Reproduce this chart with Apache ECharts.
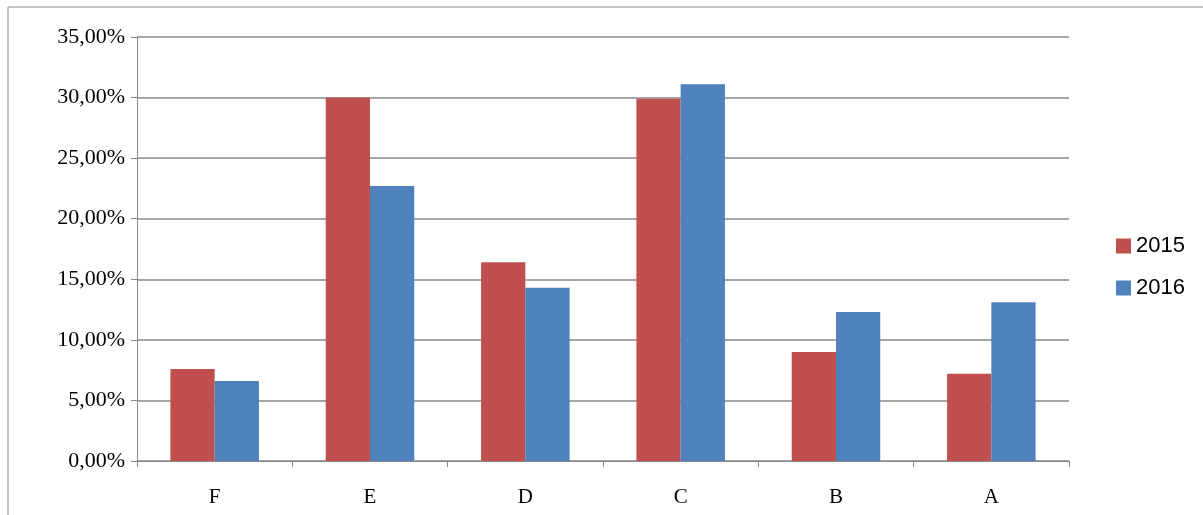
<!DOCTYPE html>
<html><head><meta charset="utf-8">
<script src="https://cdn.jsdelivr.net/npm/echarts@6/dist/echarts.min.js"></script>
<style>html,body{margin:0;padding:0;background:#fff}#c{width:1203px;height:515px}</style>
</head><body><div id="c"></div>
<script>
let categories = ['F','E','D','C','B','A'];
let s2015 = [7.6, 30.0, 16.4, 29.9, 9.0, 7.2];
let s2016 = [6.6, 22.7, 14.3, 31.1, 12.3, 13.1];

let chart = echarts.init(document.getElementById('c'));
chart.setOption({
    animation:false,
    graphic:[{type:'rect',shape:{x:8,y:7,width:1300,height:600},style:{fill:'none',stroke:'#888',lineWidth:1}}],
    legend:{
        orient:'vertical', left:1111, top:230, itemGap:20,
        itemWidth:15, itemHeight:15, icon:'rect',
        textStyle:{fontFamily:'Liberation Sans', fontSize:22, color:'#000'},
        data:['2015','2016']
    },
    grid:{left:137, right:134, top:37, bottom:54},
    xAxis:{
        type:'category', data:categories,
        axisLine:{lineStyle:{color:'#888'}},
        axisTick:{show:true, length:6, lineStyle:{color:'#888'}},
        axisLabel:{fontFamily:'Liberation Serif', fontSize:21, color:'#000', margin:26}
    },
    yAxis:{
        type:'value', min:0, max:35, interval:5,
        axisLine:{show:true, lineStyle:{color:'#888'}},
        axisTick:{show:true, length:6, inside:false, lineStyle:{color:'#888'}},
        splitLine:{lineStyle:{color:'#888', width:1.5}},
        axisLabel:{fontFamily:'Liberation Serif', fontSize:22, color:'#000', margin:12,
            formatter:function(v){return v.toFixed(2).replace('.',',')+'%';}}
    },
    series:[
        {name:'2015', type:'bar', data:s2015, barGap:'0%', barCategoryGap:'43%', itemStyle:{color:'#c0504d'}},
        {name:'2016', type:'bar', data:s2016, itemStyle:{color:'#4f81bd'}}
    ]
});
</script></body></html>
